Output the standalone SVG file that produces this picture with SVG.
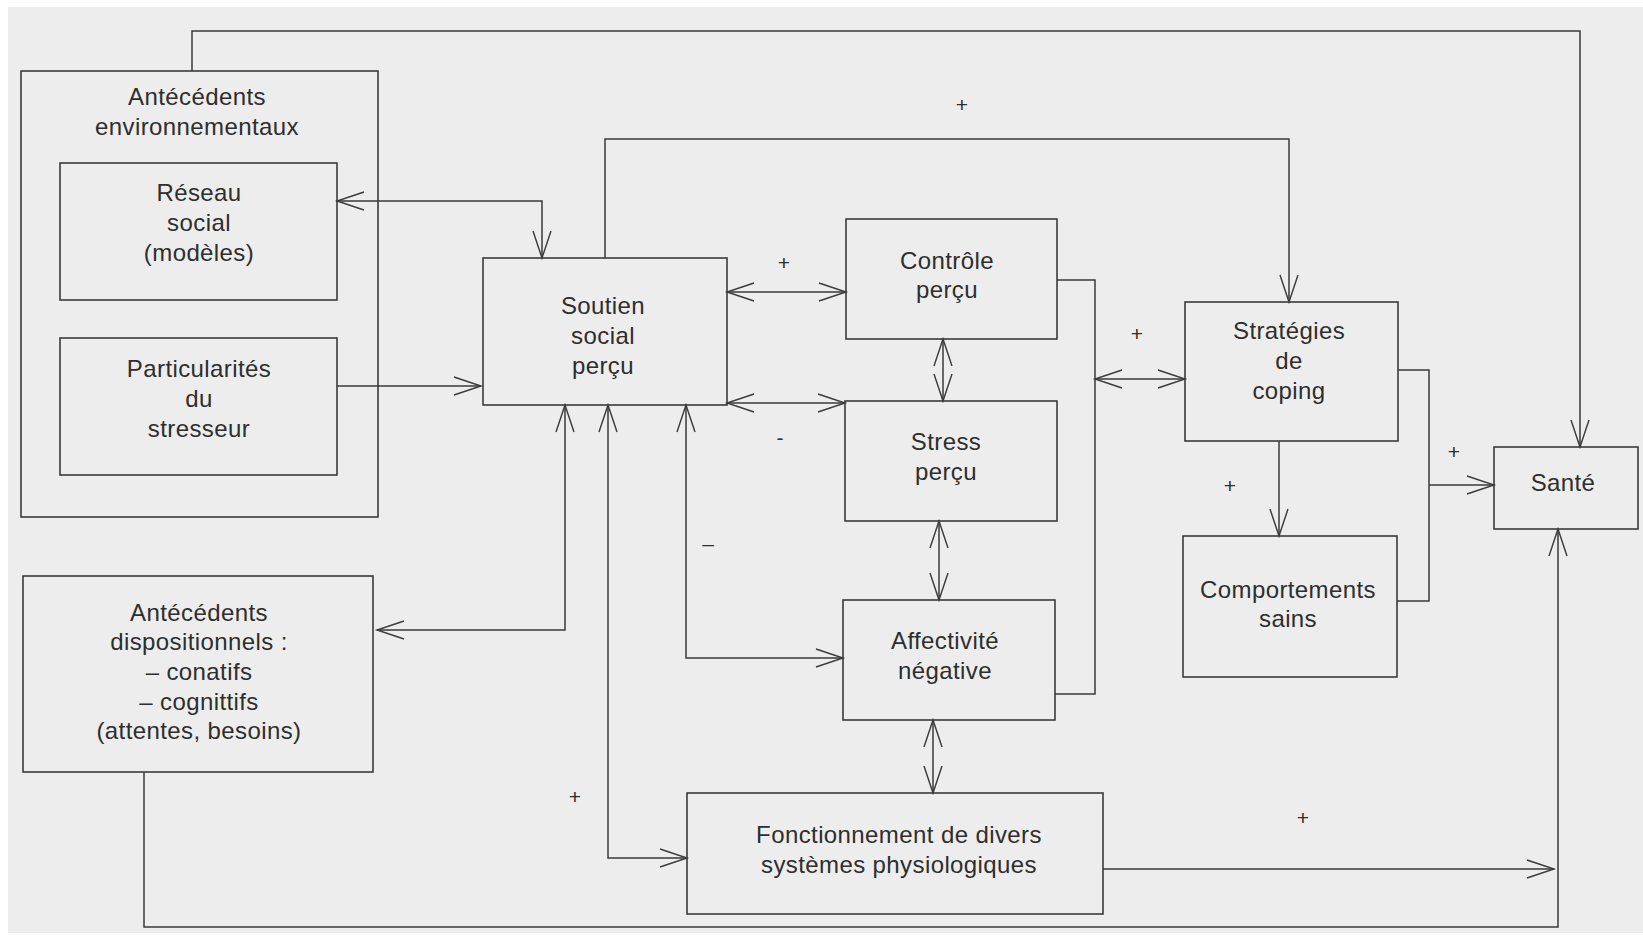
<svg xmlns="http://www.w3.org/2000/svg" width="1643" height="942" viewBox="0 0 1643 942">
<defs>
<marker id="ah" markerUnits="userSpaceOnUse" markerWidth="40" markerHeight="30" viewBox="-30 -15 40 30" refX="0" refY="0" orient="auto-start-reverse">
<path d="M-27,-9 L0,0 L-27,9" fill="none" stroke="#3a3a3a" stroke-width="1.4"/>
</marker>
<style>
.box{fill:none;stroke:#3a3a3a;stroke-width:1.6}
.ln{fill:none;stroke:#3a3a3a;stroke-width:1.5}
.t{font-family:"Liberation Sans",Arial,sans-serif;font-size:24px;letter-spacing:0.4px;fill:#2e2e2e;text-anchor:middle}
.s{font-family:"Liberation Sans",Arial,sans-serif;font-size:21px;fill:#2e2e2e;text-anchor:middle}
</style>
</defs>
<rect x="0" y="0" width="1643" height="942" fill="#ffffff"/>
<rect x="8" y="7" width="1635" height="926" fill="#ededed"/>

<g id="connectors">
<path class="ln" d="M192,71 V31 H1580 V447" marker-end="url(#ah)"/>
<path class="ln" d="M337,201 H542 V258" marker-start="url(#ah)" marker-end="url(#ah)"/>
<path class="ln" d="M337,386 H481" marker-end="url(#ah)"/>
<path class="ln" d="M605,258 V139 H1289 V302" marker-end="url(#ah)"/>
<path class="ln" d="M727,292 H846" marker-start="url(#ah)" marker-end="url(#ah)"/>
<path class="ln" d="M727,403 H845" marker-start="url(#ah)" marker-end="url(#ah)"/>
<path class="ln" d="M943,339 V401" marker-start="url(#ah)" marker-end="url(#ah)"/>
<path class="ln" d="M939,521 V600" marker-start="url(#ah)" marker-end="url(#ah)"/>
<path class="ln" d="M933,720 V793" marker-start="url(#ah)" marker-end="url(#ah)"/>
<path class="ln" d="M1057,280 H1095 V694 H1055"/>
<path class="ln" d="M1095,379 H1185" marker-start="url(#ah)" marker-end="url(#ah)"/>
<path class="ln" d="M1279,441 V536" marker-end="url(#ah)"/>
<path class="ln" d="M1398,370 H1429 V601 H1397"/>
<path class="ln" d="M1429,485 H1494" marker-end="url(#ah)"/>
<path class="ln" d="M565,405 V630 H377" marker-start="url(#ah)" marker-end="url(#ah)"/>
<path class="ln" d="M608,405 V858 H687" marker-start="url(#ah)" marker-end="url(#ah)"/>
<path class="ln" d="M686,405 V658 H843" marker-start="url(#ah)" marker-end="url(#ah)"/>
<path class="ln" d="M144,772 V927 H1558 V529" marker-end="url(#ah)"/>
<path class="ln" d="M1103,869 H1554" marker-end="url(#ah)"/>
<text class="s" x="962" y="112">+</text>
<text class="s" x="784" y="270">+</text>
<text class="s" x="780" y="445">-</text>
<text class="s" x="1137" y="341">+</text>
<text class="s" x="1230" y="493">+</text>
<text class="s" x="1454" y="459">+</text>
<text class="s" x="708" y="551">–</text>
<text class="s" x="575" y="804">+</text>
<text class="s" x="1303" y="825">+</text>
</g>

<g id="env">
<rect class="box" x="21" y="71" width="357" height="446"/>
<text class="t" x="197" y="105">Antécédents</text>
<text class="t" x="197" y="135">environnementaux</text>
</g>
<g id="reseau">
<rect class="box" x="60" y="163" width="277" height="137"/>
<text class="t" x="199" y="201">Réseau</text>
<text class="t" x="199" y="231">social</text>
<text class="t" x="199" y="261">(modèles)</text>
</g>
<g id="particularites">
<rect class="box" x="60" y="338" width="277" height="137"/>
<text class="t" x="199" y="377">Particularités</text>
<text class="t" x="199" y="407">du</text>
<text class="t" x="199" y="437">stresseur</text>
</g>
<g id="soutien">
<rect class="box" x="483" y="258" width="244" height="147"/>
<text class="t" x="603" y="314">Soutien</text>
<text class="t" x="603" y="344">social</text>
<text class="t" x="603" y="374">perçu</text>
</g>
<g id="controle">
<rect class="box" x="846" y="219" width="211" height="120"/>
<text class="t" x="947" y="269">Contrôle</text>
<text class="t" x="947" y="298">perçu</text>
</g>
<g id="stress">
<rect class="box" x="845" y="401" width="212" height="120"/>
<text class="t" x="946" y="450">Stress</text>
<text class="t" x="946" y="480">perçu</text>
</g>
<g id="affectivite">
<rect class="box" x="843" y="600" width="212" height="120"/>
<text class="t" x="945" y="649">Affectivité</text>
<text class="t" x="945" y="679">négative</text>
</g>
<g id="fonctionnement">
<rect class="box" x="687" y="793" width="416" height="121"/>
<text class="t" x="899" y="843">Fonctionnement de divers</text>
<text class="t" x="899" y="873">systèmes physiologiques</text>
</g>
<g id="strategies">
<rect class="box" x="1185" y="302" width="213" height="139"/>
<text class="t" x="1289" y="339">Stratégies</text>
<text class="t" x="1289" y="369">de</text>
<text class="t" x="1289" y="399">coping</text>
</g>
<g id="comportements">
<rect class="box" x="1183" y="536" width="214" height="141"/>
<text class="t" x="1288" y="598">Comportements</text>
<text class="t" x="1288" y="627">sains</text>
</g>
<g id="sante">
<rect class="box" x="1494" y="447" width="144" height="82"/>
<text class="t" x="1563" y="491">Santé</text>
</g>
<g id="dispositionnels">
<rect class="box" x="23" y="576" width="350" height="196"/>
<text class="t" x="199" y="621">Antécédents</text>
<text class="t" x="199" y="650">dispositionnels :</text>
<text class="t" x="199" y="680">– conatifs</text>
<text class="t" x="199" y="710">– cognittifs</text>
<text class="t" x="199" y="739">(attentes, besoins)</text>
</g>
</svg>
